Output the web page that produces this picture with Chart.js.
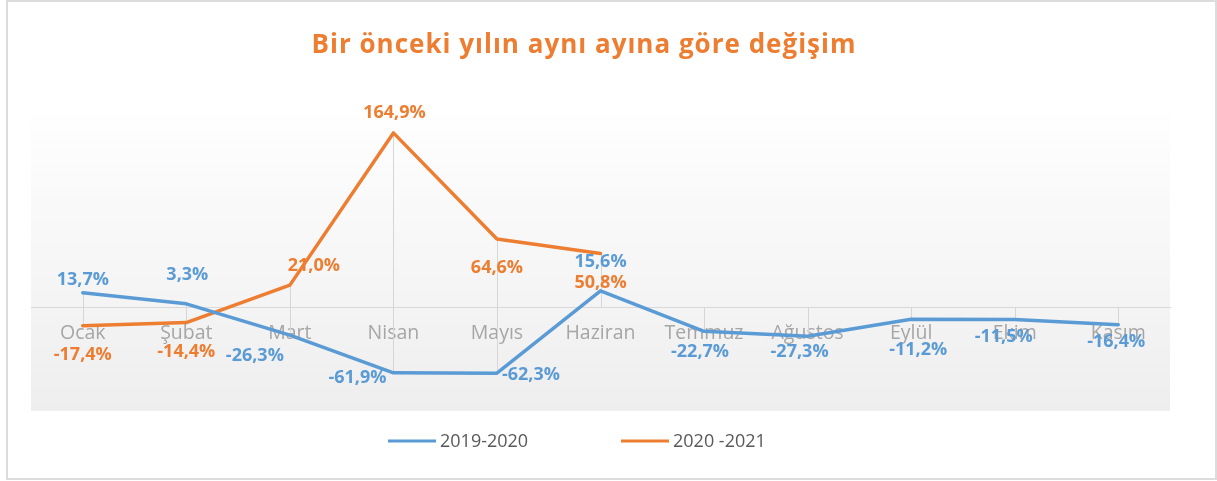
<!DOCTYPE html>
<html>
<head>
<meta charset="utf-8">
<script src="https://cdn.jsdelivr.net/npm/chart.js@4.4.1/dist/chart.umd.min.js"></script>
<style>
  html, body { margin: 0; padding: 0; background: #ffffff; }
  #wrap { position: relative; width: 1217px; height: 481px; }
  #frame { position: absolute; left: 6px; top: 0; width: 1211px; height: 480px; box-sizing: border-box;
           border: 2px solid #dcdcdc; pointer-events: none; }
  canvas { position: absolute; left: 0; top: 0; }
</style>
</head>
<body>
<div id="wrap">
  <canvas id="c" width="1217" height="481"></canvas>
  <div id="frame"></div>
</div>
<script>
const chartTitle = 'Bir önceki yılın aynı ayına göre değişim';
const months = ['Ocak', 'Şubat', 'Mart', 'Nisan', 'Mayıs', 'Haziran', 'Temmuz', 'Ağustos', 'Eylül', 'Ekim', 'Kasım'];
const seriesNames = ['2019-2020', '2020 -2021'];
const values2019_2020 = [13.7, 3.3, -26.3, -61.9, -62.3, 15.6, -22.7, -27.3, -11.2, -11.5, -16.4];
const values2020_2021 = [-17.4, -14.4, 21.0, 164.9, 64.6, 50.8];

// label offsets (pixels from the point), styling only
const labelOffsetsBlue = [[0,-13],[1,-29],[-35,21],[-36,5],[34,2],[0,-29],[-4,21],[-8,16],[7,31],[-11,17],[-2,17]];
const labelOffsetsOrange = [[0,29],[0,29],[24,-19],[1,-20],[0,29],[0,29]];

const BLUE = '#5B9BD5';
const ORANGE = '#ED7D31';

const fmt = v => v.toFixed(1).replace('.', ',') + '%';

const bgPlugin = {
  id: 'bg',
  beforeDraw(chart) {
    const {ctx, chartArea: a} = chart;
    const g = ctx.createLinearGradient(0, a.top, 0, a.bottom);
    g.addColorStop(0, '#ffffff');
    g.addColorStop(1, '#eeeeee');
    ctx.save();
    ctx.fillStyle = g;
    ctx.fillRect(a.left, a.top, a.right - a.left, a.bottom - a.top);
    ctx.restore();
  }
};

const dropLinesPlugin = {
  id: 'dropLines',
  beforeDatasetsDraw(chart) {
    const {ctx} = chart;
    const y0 = chart.scales.y.getPixelForValue(0);
    ctx.save();
    ctx.strokeStyle = '#d6d6d6';
    ctx.lineWidth = 1;
    chart.data.datasets.forEach((ds, i) => {
      const meta = chart.getDatasetMeta(i);
      meta.data.forEach(pt => {
        const x = Math.round(pt.x) + 0.5;
        ctx.beginPath();
        ctx.moveTo(x, pt.y);
        ctx.lineTo(x, y0);
        ctx.stroke();
      });
    });
    ctx.restore();
  }
};

const labelsPlugin = {
  id: 'valueLabels',
  afterDatasetsDraw(chart) {
    const {ctx} = chart;
    ctx.save();
    ctx.font = 'bold 18px "Open Sans"';
    ctx.textAlign = 'center';
    ctx.textBaseline = 'middle';
    chart.data.datasets.forEach((ds, i) => {
      const meta = chart.getDatasetMeta(i);
      const offs = i === 0 ? labelOffsetsBlue : labelOffsetsOrange;
      ctx.fillStyle = ds.borderColor;
      meta.data.forEach((pt, j) => {
        const v = ds.data[j];
        if (v === null || v === undefined) return;
        const o = offs[j] || [0, -15];
        ctx.fillText(fmt(v), pt.x + o[0], pt.y + o[1]);
      });
    });
    ctx.restore();
  }
};

const titleLegendPlugin = {
  id: 'titleLegend',
  afterDraw(chart) {
    const {ctx} = chart;
    ctx.save();
    ctx.font = 'bold 26px "Open Sans"';
    ctx.letterSpacing = '1px';
    ctx.fillStyle = ORANGE;
    ctx.textAlign = 'center';
    ctx.textBaseline = 'middle';
    ctx.fillText(chartTitle, 584, 46);
    ctx.letterSpacing = '0px';

    // legend
    ctx.font = '18px "Open Sans"';
    ctx.fillStyle = '#595959';
    ctx.textAlign = 'left';
    const items = [[388, BLUE, seriesNames[0]], [621, ORANGE, seriesNames[1]]];
    items.forEach(([x, col, txt]) => {
      ctx.strokeStyle = col;
      ctx.lineWidth = 3;
      ctx.beginPath();
      ctx.moveTo(x, 441);
      ctx.lineTo(x + 48, 441);
      ctx.stroke();
      ctx.fillText(txt, x + 52, 442);
    });
    ctx.restore();
  }
};

new Chart(document.getElementById('c'), {
  type: 'line',
  data: {
    labels: months,
    datasets: [
      { label: seriesNames[0], data: values2019_2020, borderColor: BLUE, backgroundColor: BLUE,
        borderWidth: 3.5, pointRadius: 0, tension: 0, borderJoinStyle: 'round', borderCapStyle: 'round' },
      { label: seriesNames[1], data: values2020_2021, borderColor: ORANGE, backgroundColor: ORANGE,
        borderWidth: 3.5, pointRadius: 0, tension: 0, borderJoinStyle: 'round', borderCapStyle: 'round' }
    ]
  },
  options: {
    responsive: false,
    animation: false,
    layout: { padding: { left: 31, right: 47, top: 100, bottom: 70 } },
    plugins: { legend: { display: false }, title: { display: false }, tooltip: { enabled: false } },
    scales: {
      x: {
        position: { y: 0 },
        offset: true,
        grid: { display: false },
        border: { display: true, color: '#d9d9d9', width: 1 },
        ticks: { color: '#a6a6a6', font: { family: 'Open Sans', size: 19.5 }, padding: 6, maxRotation: 0, autoSkip: false }
      },
      y: { display: false, min: -98, max: 196 }
    }
  },
  plugins: [bgPlugin, dropLinesPlugin, labelsPlugin, titleLegendPlugin]
});
</script>
</body>
</html>
